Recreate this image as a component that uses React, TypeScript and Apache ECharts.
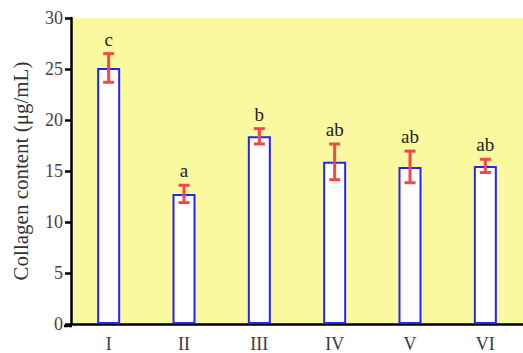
import React, { useEffect, useRef } from "react";
import * as echarts from "echarts";

const categories = ["I", "II", "III", "IV", "V", "VI"];
const means = [25.1, 12.75, 18.4, 15.9, 15.4, 15.5];
const errors = [1.4, 0.85, 0.75, 1.75, 1.55, 0.65];
const letters = ["c", "a", "b", "ab", "ab", "ab"];
const yLabel = "Collagen content (μg/mL)";

const FONT = "'Liberation Serif', 'Times New Roman', serif";

export default function App() {
  const ref = useRef<HTMLDivElement>(null);
  useEffect(() => {
    if (!ref.current) return;
    const chart = echarts.init(ref.current, null, { renderer: "svg" });
    chart.setOption({
      animation: false,
      backgroundColor: "#ffffff",
      grid: {
        show: true,
        left: 71,
        top: 18,
        bottom: 27,
        right: -12,
        backgroundColor: "#fbf99f",
        borderWidth: 0,
      },
      xAxis: {
        type: "category",
        data: categories,
        axisLine: { lineStyle: { color: "#000", width: 2.5 } },
        axisTick: { alignWithLabel: true, length: 6, lineStyle: { color: "#000", width: 2.5 } },
        axisLabel: { color: "#3a3a3a", fontFamily: FONT, fontSize: 18, margin: 11 },
      },
      yAxis: {
        type: "value",
        min: 0,
        max: 30,
        interval: 5,
        name: yLabel,
        nameLocation: "middle",
        nameGap: 40,
        nameRotate: 90,
        nameTextStyle: { color: "#333", fontFamily: FONT, fontSize: 21 },
        axisLine: { show: true, lineStyle: { color: "#000", width: 2.5 } },
        axisTick: { show: true, length: 6, lineStyle: { color: "#000", width: 2.5 } },
        axisLabel: { color: "#444", fontFamily: FONT, fontSize: 18, margin: 8 },
        splitLine: { show: false },
      },
      graphic: [
        {
          type: "line",
          shape: { x1: 64, y1: 326, x2: 72, y2: 326 },
          style: { stroke: "#000", lineWidth: 2.5 },
        },
      ],
      series: [
        {
          type: "bar",
          data: means,
          barWidth: 23,
          itemStyle: { color: "#ffffff", borderColor: "#2424ff", borderWidth: 2 },
        },
        {
          type: "custom",
          data: categories.map((c, i) => [i, means[i], errors[i]]),
          z: 5,
          renderItem: (params: any, api: any) => {
            const idx = params.dataIndex;
            const x = api.value(0);
            const m = api.value(1);
            const e = api.value(2);
            const top = api.coord([x, m + e]);
            const bot = api.coord([x, m - e]);
            const hw = 5.5;
            const st = { stroke: "#f24848", lineWidth: 3 };
            return {
              type: "group",
              children: [
                { type: "line", shape: { x1: top[0], y1: top[1], x2: bot[0], y2: bot[1] }, style: st },
                { type: "line", shape: { x1: top[0] - hw, y1: top[1], x2: top[0] + hw, y2: top[1] }, style: st },
                { type: "line", shape: { x1: bot[0] - hw, y1: bot[1], x2: bot[0] + hw, y2: bot[1] }, style: st },
                {
                  type: "text",
                  x: top[0],
                  y: top[1] - 5,
                  style: {
                    text: letters[idx],
                    textAlign: "center",
                    textVerticalAlign: "bottom",
                    fontFamily: FONT,
                    fontSize: 19,
                    fill: "#222",
                  },
                },
              ],
            };
          },
        },
      ],
    });
    return () => chart.dispose();
  }, []);
  return (
    <div
      ref={ref}
      style={{ position: "fixed", left: 0, top: 0, width: 523, height: 353 }}
    />
  );
}
